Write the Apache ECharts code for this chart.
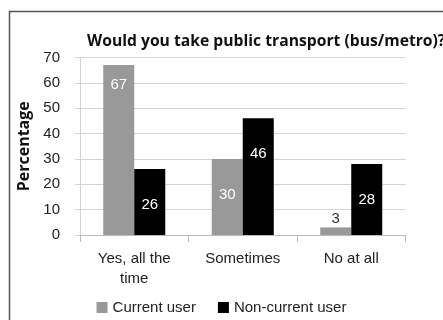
<!DOCTYPE html>
<html>
<head>
<meta charset="utf-8">
<script src="https://cdn.jsdelivr.net/npm/echarts@6/dist/echarts.min.js"></script>
<style>
  html, body { margin: 0; padding: 0; background: #fff; }
  #chart { width: 443px; height: 320px; }
</style>
</head>
<body>
<div id="chart"></div>
<script>
// 数据
var categories = ['Yes, all the\ntime', 'Sometimes', 'No at all'];
var current_user = [67, 30, 3];
var non_current_user = [26, 46, 28];
var y_ticks = [0, 10, 20, 30, 40, 50, 60, 70];

var font = 'Liberation Sans';
var chart = echarts.init(document.getElementById('chart'));

function label_for(values) {
    // 小数值放在柱顶上方，高柱标签靠近顶部，其余放在柱内稍靠下
    return values.map(function (v) {
        if (v < 10) {
            return {value: v, label: {position: 'top', distance: 1, color: '#333'}};
        }
        if (v > 60) {
            return {value: v, label: {distance: 12}};
        }
        return {value: v};
    });
}

var option = {
    animation: false,
    textStyle: {fontFamily: font},
    title: {
        text: 'Would you take public transport (bus/metro)?',
        left: 87,
        top: 34,
        padding: 0,
        textStyle: {fontFamily: 'Open Sans', fontSize: 15.7, fontWeight: 'bold', color: '#111'}
    },
    graphic: [{
        type: 'rect',
        shape: {x: 9.5, y: 11.5, width: 460, height: 340},
        style: {fill: 'none', stroke: '#555', lineWidth: 1.5},
        silent: true
    }],
    legend: {
        top: 295,
        left: 'center',
        itemWidth: 11,
        itemHeight: 11,
        itemGap: 22,
        icon: 'rect',
        textStyle: {fontFamily: font, fontSize: 15, color: '#222'},
        data: ['Current user', 'Non-current user']
    },
    grid: {left: 80, right: 37.5, top: 57.5, bottom: 85},
    xAxis: {
        type: 'category',
        data: categories,
        axisLine: {lineStyle: {color: '#bbb'}},
        axisTick: {show: true, length: 7, lineStyle: {color: '#bbb'}},
        axisLabel: {fontFamily: font, fontSize: 15, color: '#222', margin: 14, lineHeight: 20}
    },
    yAxis: {
        type: 'value',
        min: 0,
        max: 70,
        interval: 10,
        name: 'Percentage',
        nameLocation: 'middle',
        nameGap: 42,
        nameTextStyle: {fontFamily: 'Open Sans', fontSize: 16, fontWeight: 'bold', color: '#111'},
        axisLine: {show: true, lineStyle: {color: '#d4d4d4'}},
        axisTick: {show: true, length: 5, lineStyle: {color: '#d4d4d4'}},
        splitLine: {lineStyle: {color: '#d4d4d4'}},
        axisLabel: {fontFamily: font, fontSize: 15, color: '#222', margin: 20,
            formatter: function (v) { return y_ticks.indexOf(v) >= 0 ? String(v) : ''; }}
    },
    series: [
        {
            name: 'Current user',
            type: 'bar',
            barWidth: 31,
            barGap: '0%',
            itemStyle: {color: '#999999'},
            label: {show: true, position: 'insideTop', distance: 28, color: '#fff', fontFamily: font, fontSize: 15},
            data: label_for(current_user)
        },
        {
            name: 'Non-current user',
            type: 'bar',
            barWidth: 31,
            barGap: '0%',
            itemStyle: {color: '#000000'},
            label: {show: true, position: 'insideTop', distance: 28, color: '#fff', fontFamily: font, fontSize: 15},
            data: label_for(non_current_user)
        }
    ]
};
chart.setOption(option);
</script>
</body>
</html>
